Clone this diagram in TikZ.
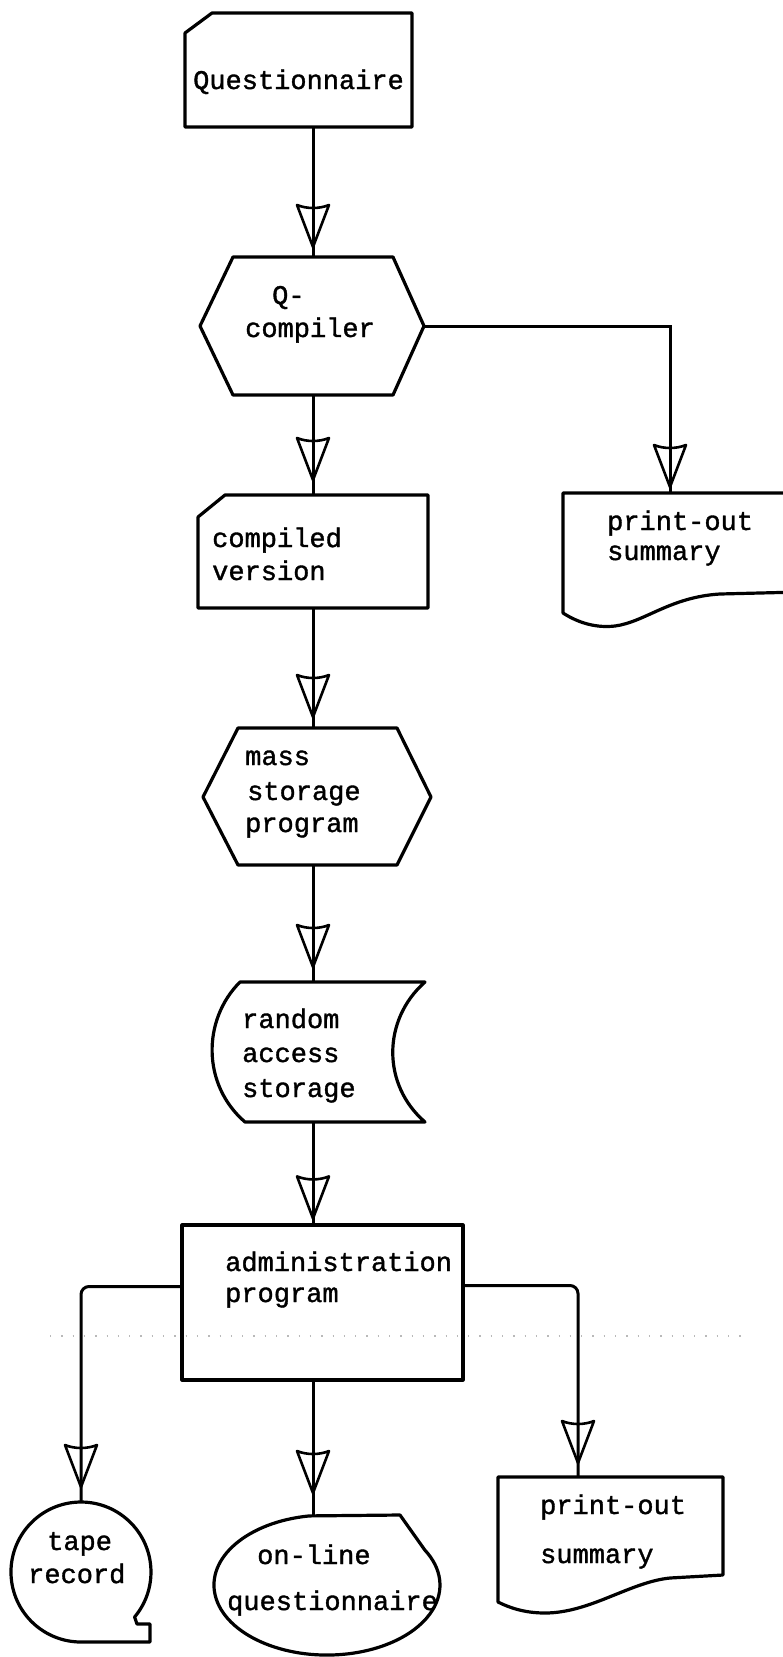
\documentclass[tikz,border=0pt]{standalone}
\usepackage{fontspec}
\newfontfamily\typew[FakeBold=1.3]{Liberation Mono}
\usetikzlibrary{calc}
\tikzset{
  shp/.style={line width=3.2pt, line join=round},
  conn/.style={line width=3pt},
  hold/.style={rectangle, inner sep=0pt, outer sep=0pt, draw=none},
  txt/.style={font=\typew\fontsize{27}{32}\selectfont, inner sep=0pt, anchor=base west},
  vhead/.pic={\draw[line width=2.6pt, line join=round] (0,0) -- (-16,-42) .. controls (-6,-38) and (6,-38) .. (16,-42) -- cycle;}
}
\begin{document}
\begin{tikzpicture}[x=1pt,y=-1pt]
\useasboundingbox (0,0) rectangle (783,1657);
\clip (0,0) rectangle (783,1657);
\fill[white] (0,0) rectangle (783,1657);
\coordinate (col) at (313,0);

% faint dotted scan line
\draw[gray!55, line width=1.3pt, dash pattern=on 1.3pt off 10pt] (50,1336) -- (745,1336);

% Questionnaire (card)
\node[hold, minimum width=227pt, minimum height=114pt] (q) at (298.5,70) {};
\draw[shp] (185,127) -- (185,33) -- (212,13) -- (412,13) -- (412,127) -- cycle;
\node[txt] (t1) at (193,89) {Questionnaire};

% Q-compiler (hexagon)
\node[hold, minimum width=224pt, minimum height=138pt] (qc) at (312,326) {};
\draw[shp] (200,326) -- (233,257) -- (393,257) -- (424,326) -- (393,395) -- (233,395) -- cycle;
\node[txt] (t2) at (272,304) {Q-};
\node[txt] (t3) at (245,337) {compiler};

% print-out summary (upper document)
\node[hold, minimum width=214pt, minimum height=120pt] (pu) at (670,553) {};
\draw[shp] (563,560) -- (563,493) -- (800,493) -- (800,592) -- (720,594) .. controls (670,597) and (645,622) .. (615,626) .. controls (598,628) and (580,624) .. (563,613) -- cycle;
\node[txt] (t4) at (607,530) {print-out};
\node[txt] (t5) at (607,560) {summary};

% compiled version (card)
\node[hold, minimum width=230pt, minimum height=113pt] (cv) at (313,551.5) {};
\draw[shp] (198,608) -- (198,517) -- (225,495) -- (428,495) -- (428,608) -- cycle;
\node[txt] (t6) at (212,547) {compiled};
\node[txt] (t7) at (212,580) {version};

% mass storage program (hexagon)
\node[hold, minimum width=228pt, minimum height=137pt] (ms) at (317,796.5) {};
\draw[shp] (203,797) -- (238,728) -- (397,728) -- (431,797) -- (397,865) -- (238,865) -- cycle;
\node[txt] (t8) at (245,765) {mass};
\node[txt] (t9) at (247,800) {storage};
\node[txt] (t10) at (245,832) {program};

% random access storage (stored data)
\node[hold, minimum width=213pt, minimum height=140pt] (ras) at (318.5,1052) {};
\draw[shp] (240,982) -- (425,982) .. controls (382,1020) and (382,1085) .. (425,1122) -- (245,1122) .. controls (202,1085) and (202,1020) .. (240,982) -- cycle;
\node[txt] (t11) at (242,1028) {random};
\node[txt] (t12) at (242,1062) {access};
\node[txt] (t13) at (242,1097) {storage};

% administration program (process)
\node[draw, shp, rectangle, inner sep=0pt, minimum width=281pt, minimum height=155pt] (adm) at (322.5,1302.5) {};
\node[txt] (t14) at (225,1271) {administration};
\node[txt] (t15) at (225,1302) {program};

% tape record
\node[hold, minimum width=140pt, minimum height=140pt] (tape) at (81,1572) {};
\draw[shp] (134.6,1617) arc[start angle=40, end angle=-270, radius=70] -- (150,1642) -- (150,1624) -- (137,1624) -- cycle;
\node[txt] (t16) at (47,1550) {tape};
\node[txt] (t17) at (28,1583) {record};

% on-line questionnaire (display)
\node[hold, minimum width=226pt, minimum height=140pt] (onl) at (327,1585) {};
\draw[shp] (400,1515) -- (309.3,1515.9) arc[start angle=261, end angle=-30, x radius=113, y radius=70] -- cycle;
\node[txt] (t18) at (257,1564) {on-line};
\node[txt] (t19) at (227,1610) {questionnaire};

% print-out summary (lower document)
\node[hold, minimum width=225pt, minimum height=125pt] (po) at (610.5,1539.5) {};
\draw[shp] (498,1540) -- (498,1477) -- (723,1477) -- (723,1575) -- (670,1578) .. controls (630,1582) and (590,1613) .. (545,1613) .. controls (525,1613) and (510,1608) .. (498,1602) -- cycle;
\node[txt] (t20) at (540,1514) {print-out};
\node[txt] (t21) at (540,1563) {summary};

% connectors
\draw[conn] (q.south -| col) -- (qc.north -| col);
\path ([yshift=10pt]qc.north -| col) pic{vhead};
\draw[conn] (qc.east) -| (pu.north);
\path ([yshift=6pt]pu.north) pic{vhead};
\draw[conn] (qc.south -| col) -- (cv.north -| col);
\path ([yshift=15pt]cv.north -| col) pic{vhead};
\draw[conn] (cv.south -| col) -- (ms.north -| col);
\path ([yshift=11pt]ms.north -| col) pic{vhead};
\draw[conn] (ms.south -| col) -- (ras.north -| col);
\path ([yshift=15pt]ras.north -| col) pic{vhead};
\draw[conn] (ras.south -| col) -- (adm.north -| col);
\path ([yshift=5pt]adm.north -| col) pic{vhead};
\draw[conn, rounded corners=8pt] ([yshift=16pt]adm.west) -| (tape.north);
\path ([yshift=15pt]tape.north) pic{vhead};
\draw[conn] (adm.south -| col) -- (onl.north -| col);
\path ([yshift=22pt]onl.north -| col) pic{vhead};
\draw[conn, rounded corners=8pt] ([yshift=17pt]adm.east) -| ([xshift=-32.5pt]po.north);
\path ([yshift=14pt, xshift=-32.5pt]po.north) pic{vhead};
\end{tikzpicture}
\end{document}
